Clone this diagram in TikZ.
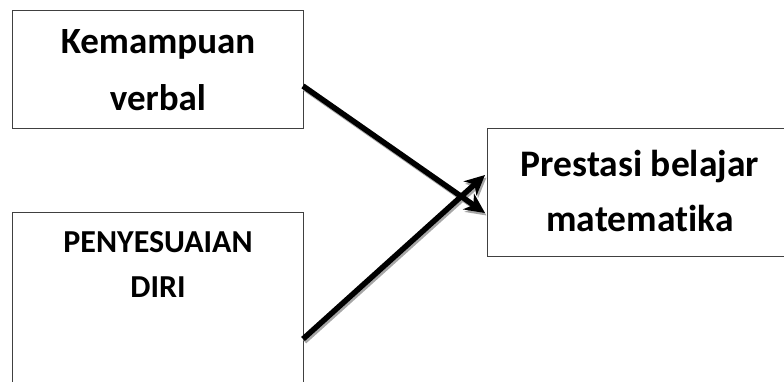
\documentclass[tikz,border=0pt]{standalone}
\usepackage{fontspec}
\setmainfont[Ligatures=NoCommon]{Carlito}
\usetikzlibrary{arrows.meta}
\tikzset{
  boxnode/.style={draw=black!75, line width=1.2pt, fill=white, inner sep=0pt, anchor=north west},
  lbl/.style={font=\bfseries, align=center, inner sep=0pt},
  conn/.style={line width=5.5pt, -{Stealth[length=20pt,width=19pt,inset=6pt]}},
  shadowline/.style={line width=5pt, draw=black!35, -{Stealth[length=20pt,width=19pt,inset=6pt]}},
}
\begin{document}
\begin{tikzpicture}[x=1pt,y=1pt]
\useasboundingbox (0,0) rectangle (784,381);
\begin{scope}
\clip (0,0) rectangle (784,381);
\node[boxnode, minimum width=291pt, minimum height=118pt] (b1) at (12,371) {};
\node[boxnode, minimum width=291pt, minimum height=220pt] (b2) at (12,169) {};
\node[boxnode, minimum width=300pt, minimum height=128pt] (b3) at (487,253) {};
\end{scope}
\node[lbl, font=\fontsize{37}{57}\selectfont\bfseries] (t1) at (158,311) {Kemampuan\\verbal};
\node[lbl, font=\fontsize{32}{45}\selectfont\bfseries] (t2) at (158,116) {PENYESUAIAN\\DIRI};
\node[lbl, font=\fontsize{37.5}{55}\selectfont\bfseries] (t3) at (640,190) {Prestasi belajar\\matematika};
\coordinate (s1) at (303,295);
\coordinate (e1) at (485,168);
\coordinate (s2) at (303,42);
\coordinate (e2) at (485,206);
\draw[shadowline] ([shift={(1.5,-2.5)}]s1) -- ([shift={(1.5,-2.5)}]e1);
\draw[shadowline] ([shift={(1.5,-2.5)}]s2) -- ([shift={(1.5,-2.5)}]e2);
\draw[conn] (s1) -- (e1);
\draw[conn] (s2) -- (e2);
\end{tikzpicture}
\end{document}
